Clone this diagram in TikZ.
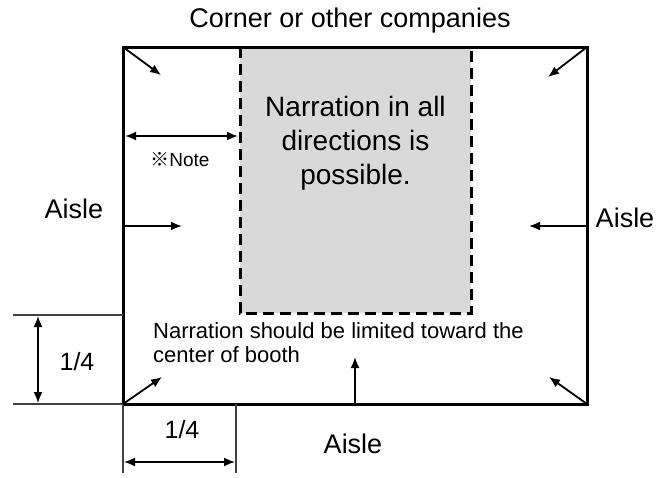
\documentclass[tikz,border=0pt]{standalone}
\usepackage{fontspec}
\setmainfont{Liberation Sans}
\newfontfamily\markfont{Noto Sans CJK JP}
\usetikzlibrary{positioning}
\usetikzlibrary{arrows.meta}

\definecolor{boothgray}{RGB}{217,217,217}

\begin{document}
\begin{tikzpicture}[x=1pt, y=-1pt,
                >={Latex[length=11pt,width=9pt]},
                bigtext/.style={font=\fontsize{27}{32}\selectfont, inner sep=0pt},
                zonetext/.style={font=\fontsize{28}{34}\selectfont, inner sep=0pt, align=center},
                midtext/.style={font=\fontsize{22}{24}\selectfont, inner sep=0pt, align=left},
                notetext/.style={font=\fontsize{19}{22}\selectfont, inner sep=0pt},
                dimtext/.style={font=\fontsize{25}{28}\selectfont, inner sep=0pt},
                wall/.style={line width=3pt, line join=miter},
                zone/.style={line width=3pt, dash pattern=on 11pt off 6pt},
                dimline/.style={line width=1.5pt, draw=black!75},
                flow/.style={->, line width=1.8pt},
            ]
            \useasboundingbox (0,0) rectangle (671,477);

            % Corners
            \coordinate (booth_nw) at (123,47);
            \coordinate (booth_ne) at (587,47);
            \coordinate (booth_sw) at (123,404);
            \coordinate (booth_se) at (587,404);
            \coordinate (zone_nw)  at (240,47);
            \coordinate (zone_ne)  at (471,47);
            \coordinate (zone_sw)  at (240,313);
            \coordinate (zone_se)  at (471,313);

            % Zone
            \fill[boothgray] (zone_nw) rectangle (zone_se);
            \draw[wall] (booth_nw) rectangle (booth_se);
            \draw[zone] (zone_nw) -- (zone_sw) -- (zone_se) -- (zone_ne);

            % Nodes
            \node[bigtext, anchor=base]   (title)       at (350,27)  {Corner or other companies};
            \node[bigtext, anchor=base]   (aisle_left)  at (74,218)  {Aisle};
            \node[bigtext, anchor=base]   (aisle_right) at (625,227) {Aisle};
            \node[bigtext, anchor=base]   (aisle_bottom) at (353,453) {Aisle};
            \node[zonetext, anchor=north] (zone_text)   at (355.5,96) {Narration in all\\directions is\\possible.};
            \node[midtext, anchor=north west] (limit_text) at (153,322) {Narration should be limited toward the\\center of booth};
            \node[notetext, anchor=base]  (note)        at (180,166) {{\markfont ※}Note};
            \node[dimtext]                (quarter_v)   at (77,362)  {1/4};
            \node[dimtext]                (quarter_h)   at (182,430) {1/4};

            % Dimensions
            \coordinate (dim_top_l)  at (13,315);
            \coordinate (dim_top_r)  at (123,315);
            \coordinate (dim_bot_l)  at (13,404);
            \coordinate (dim_end_l)  at (123,473);
            \coordinate (dim_end_r)  at (236,473);
            \coordinate (dim_start_r) at (236,404);
            \draw[dimline] (dim_top_l) -- (dim_top_r);
            \draw[dimline] (dim_bot_l) -- (booth_sw);
            \draw[dimline] (booth_sw) -- (dim_end_l);
            \draw[dimline] (dim_start_r) -- (dim_end_r);
            \coordinate (arr_v_top) at (38,316);
            \coordinate (arr_v_bot) at (38,403);
            \coordinate (arr_h_l)   at (124,462);
            \coordinate (arr_h_r)   at (235,462);
            \draw[flow, <->, line width=1.6pt] (arr_v_top) -- (arr_v_bot);
            \draw[flow, <->, line width=1.6pt] (arr_h_l) -- (arr_h_r);

            % Note width
            \coordinate (note_l) at (125,136);
            \coordinate (note_r) at (238,136);
            \draw[flow, <->] (note_l) -- (note_r);

            %Lines
            \coordinate (tip_nw) at (161,75);
            \coordinate (tip_ne) at (548,77);
            \coordinate (tip_sw) at (162,377);
            \coordinate (tip_se) at (549,377);
            \draw[flow] (booth_nw) -- (tip_nw);
            \draw[flow] (booth_ne) -- (tip_ne);
            \draw[flow] (booth_sw) -- (tip_sw);
            \draw[flow] (booth_se) -- (tip_se);

            \coordinate (wall_w) at (123,226);
            \coordinate (wall_e) at (587,226);
            \coordinate (wall_s) at (355,404);
            \coordinate (tip_w)  at (182,226);
            \coordinate (tip_e)  at (529,226);
            \coordinate (tip_s)  at (355,357);
            \draw[flow] (wall_w) -- (tip_w);
            \draw[flow] (wall_e) -- (tip_e);
            \draw[flow] (wall_s) -- (tip_s);
        \end{tikzpicture}
\end{document}
